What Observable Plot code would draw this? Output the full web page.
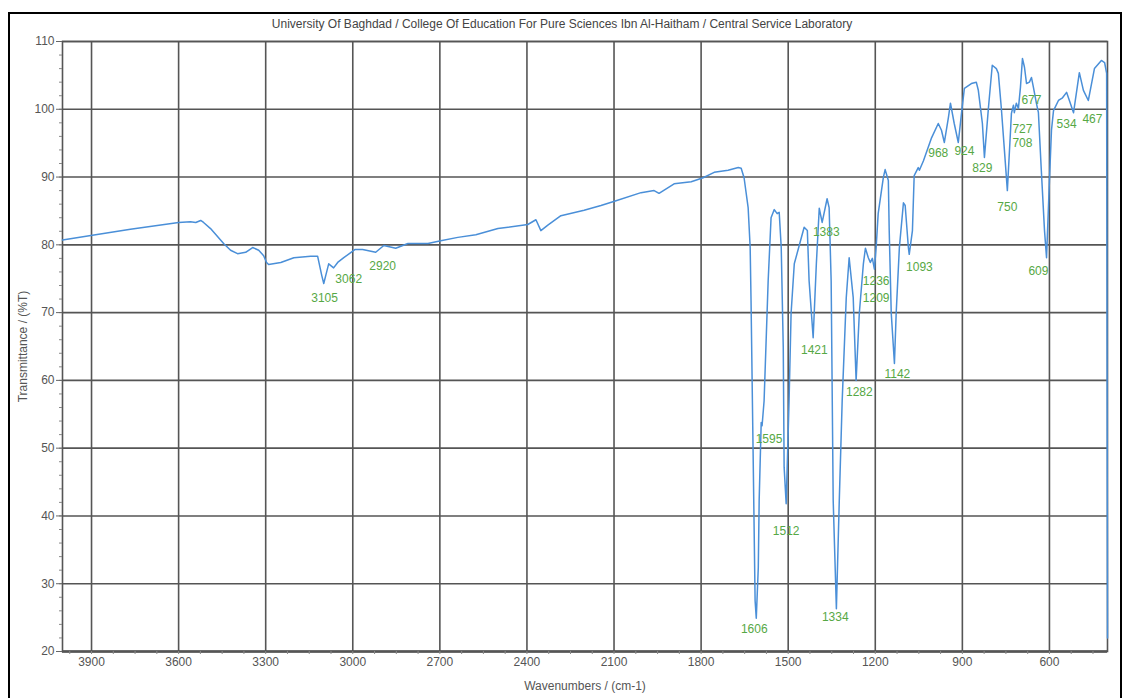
<!DOCTYPE html>
<html>
<head>
<meta charset="utf-8">
<script src="https://cdn.jsdelivr.net/npm/d3@7"></script>
<script src="https://cdn.jsdelivr.net/npm/@observablehq/plot@0.6"></script>
<style>
  html, body { margin: 0; padding: 0; background: #fff; width: 1131px; height: 698px; overflow: hidden; }
  #frame { position: absolute; left: 8px; top: 12px; width: 1114px; height: 720px; border: 2px solid #000; box-sizing: border-box; }
  #title { position: absolute; left: 62px; width: 1000px; top: 17px; text-align: center; font: 12px "Liberation Sans", Arial, sans-serif; color: #444; }
  #chart { position: absolute; left: 0; top: 0; }
</style>
</head>
<body>
<div id="frame"></div>
<div id="title">University Of Baghdad / College Of Education For Pure Sciences Ibn Al-Haitham / Central Service Laboratory</div>
<div id="chart"></div>
<script>
// Spectrum readings: wavenumber (cm-1) and transmittance (%T)
const wavenumbers = [4000,3897,3766,3600,3559,3541,3524,3514,3490,3445,3421,3397,3369,3345,3324,3307,3297,3290,3248,3203,3145,3121,3107,3100,3093,3083,3066,3052,3031,2993,2966,2921,2893,2852,2810,2766,2741,2697,2638,2576,2500,2397,2369,2352,2328,2283,2203,2145,2093,2007,1962,1945,1893,1834,1793,1755,1707,1672,1662,1652,1638,1631,1628,1621,1614,1610,1603,1600,1593,1590,1583,1569,1559,1548,1538,1531,1524,1517,1514,1507,1497,1490,1479,1462,1445,1434,1428,1414,1403,1393,1383,1366,1359,1352,1345,1334,1324,1314,1300,1290,1276,1266,1255,1241,1234,1224,1217,1210,1203,1197,1190,1172,1166,1155,1152,1145,1134,1128,1117,1103,1097,1086,1083,1072,1066,1052,1048,1034,1007,983,972,962,948,941,928,914,903,893,869,852,845,831,824,810,797,783,776,766,755,745,734,731,724,721,714,707,700,693,686,679,669,662,655,645,638,628,617,610,600,593,586,569,555,541,517,497,483,466,445,421,410,403,400];
const transmittance = [80.7,81.4,82.3,83.3,83.4,83.3,83.6,83.3,82.4,80.2,79.2,78.7,78.9,79.6,79.2,78.4,77.4,77.1,77.4,78.1,78.3,78.3,75.5,74.3,75.5,77.2,76.6,77.4,78.1,79.3,79.3,78.9,79.9,79.5,80.2,80.2,80.2,80.6,81.1,81.5,82.4,83.0,83.7,82.1,82.9,84.3,85.1,85.8,86.5,87.7,88.0,87.6,89.0,89.3,89.9,90.7,91.0,91.4,91.3,89.9,85.5,79.6,71.8,49.7,27.5,24.9,32.4,42.3,53.8,53.3,57.0,74.7,84.0,85.2,84.6,84.8,79.6,64.9,47.2,41.8,57.0,69.9,77.2,79.9,82.6,82.1,74.7,66.3,77.2,85.4,83.3,86.8,85.5,74.7,42.3,26.3,42.3,57.0,72.2,78.1,72.2,60.0,69.9,77.2,79.5,78.1,77.4,78.0,76.4,79.6,84.6,90.0,91.1,89.5,82.1,69.9,62.5,69.9,79.6,86.2,85.8,79.6,78.6,82.1,90.2,91.4,91.0,92.4,95.7,97.9,96.9,95.1,98.8,100.9,97.9,95.1,99.4,103.1,103.8,104.0,102.8,97.9,92.9,100.3,106.5,106.0,105.3,100.3,93.9,88.0,96.9,99.4,100.6,99.5,100.9,100.1,103.2,107.5,106.2,103.8,104.0,104.7,103.2,100.9,99.5,91.0,82.1,78.1,89.5,96.9,99.8,101.3,101.7,102.5,99.5,105.4,102.8,101.3,106.0,107.2,106.9,105.3,22.0];

// Peak annotations (text and where each sits on the chart)
const peakText = ["3105","3062","2920","1606","1595","1512","1334","1421","1383","1282","1236","1209","1142","1093","968","924","829","750","727","708","677","609","534","467"];
const peakWn   = [3097,3014,2897,1617,1566,1507,1338,1410,1369,1255,1197,1197,1124,1048,983,893,831,745,693,693,662,638,541,452];
const peakT    = [72.2,75.0,76.9,23.3,51.3,37.7,25.0,64.4,81.8,58.2,74.7,72.2,60.9,76.7,93.5,93.8,91.3,85.6,97.0,95.0,101.3,76.1,97.8,98.5];

const xTicks = [3900,3600,3300,3000,2700,2400,2100,1800,1500,1200,900,600];
const yTicks = [20,30,40,50,60,70,80,90,100,110];
const xMinor = d3.range(3975, 399, -75);
const yMinor = d3.range(20, 110.1, 2);

const spectrum = wavenumbers.map((w, i) => ({wn: w, t: transmittance[i]}));
const peaks = peakText.map((s, i) => ({text: s, wn: peakWn[i], t: peakT[i]}));

const font = "Liberation Sans, Arial, sans-serif";
const chart = Plot.plot({
  width: 1131,
  height: 698,
  marginLeft: 62,
  marginRight: 24,
  marginTop: 41,
  marginBottom: 47,
  style: {background: "transparent", fontFamily: font, overflow: "visible"},
  x: {domain: [4000, 400], label: null},
  y: {domain: [20, 110], label: null},
  marks: [
    Plot.gridX(xTicks, {stroke: "#555", strokeOpacity: 1, strokeWidth: 1.6}),
    Plot.gridY(yTicks, {stroke: "#555", strokeOpacity: 1, strokeWidth: 1.6}),
    Plot.frame({stroke: "#555", strokeWidth: 1.6}),
    Plot.ruleY([20], {stroke: "#555", strokeWidth: 2.5}),
    Plot.axisY(yMinor, {tickSize: 3, text: null, stroke: "#888"}),
    Plot.axisY(yTicks, {tickSize: 6, tickPadding: 2, fontSize: 12, fill: "#555", stroke: "#666",
      label: "Transmittance / (%T)", labelAnchor: "center", labelArrow: "none", labelOffset: 44}),
    Plot.axisX(xMinor, {tickSize: 3, text: null, stroke: "#888"}),
    Plot.axisX(xTicks, {tickSize: 0, tickPadding: 6, fontSize: 12, fill: "#555", tickFormat: d3.format("d"),
      label: "Wavenumbers / (cm-1)", labelAnchor: "center", labelArrow: "none", labelOffset: 38}),
    Plot.line(spectrum, {x: "wn", y: "t", stroke: "#4a8fd8", strokeWidth: 1.5}),
    Plot.text(peaks, {x: "wn", y: "t", text: "text", fill: "#56a845", fontSize: 12, fontFamily: font})
  ]
});
document.getElementById("chart").appendChild(chart);
</script>
</body>
</html>
